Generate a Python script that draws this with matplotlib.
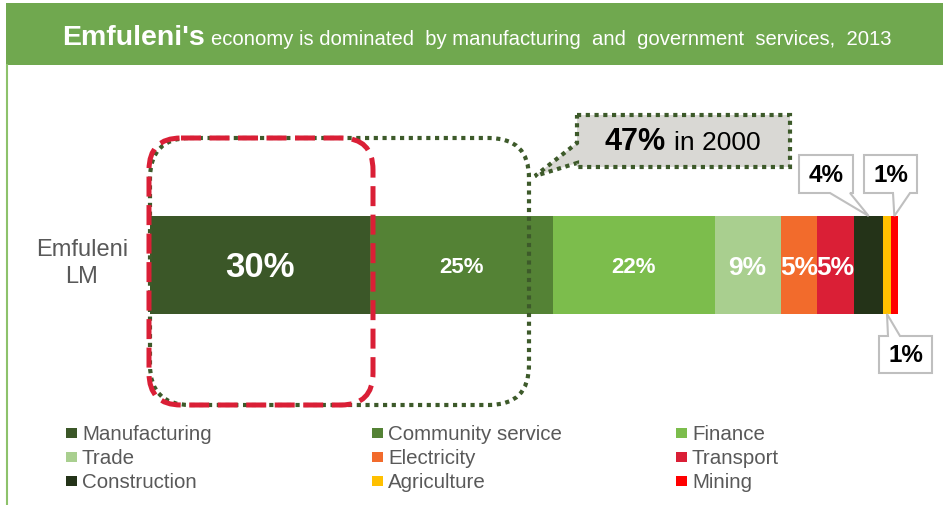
import matplotlib.pyplot as plt
from matplotlib.patches import Rectangle, FancyBboxPatch, Polygon
from matplotlib.transforms import Affine2D

plt.rcParams['font.family'] = ['Liberation Sans', 'DejaVu Sans']

sectors = ["Manufacturing", "Community service", "Finance",
           "Trade", "Electricity", "Transport",
           "Construction", "Agriculture", "Mining"]
shares = [30, 25, 22, 9, 5, 5, 4, 1, 1]
colours = ["#3B5728", "#548235", "#7CBD4C",
           "#A9CF8F", "#F26B2C", "#DA1F36",
           "#243318", "#FFC000", "#FF0000"]
# sizes of the white in-bar labels (small segments get callouts instead)
inside_size = [25, 16, 16, 19, 19, 19, None, None, None]
region = "Emfuleni\nLM"
share_2000 = 47

W, H = 943, 505
fig = plt.figure(figsize=(W / 100, H / 100), dpi=100)
# pixel coords, origin at the top-left corner
px = Affine2D().scale(1 / W, -1 / H).translate(0, 1) + fig.transFigure

# header band + thin frame line
fig.patches.append(Rectangle((6, 3), W - 6, 62, transform=px, fc="#70A84F", ec="none"))
fig.add_artist(plt.Line2D([6.5, 6.5], [65, H], transform=px, color="#8DC26B", lw=1.5))
fig.text(62, 45, "Emfuleni's", transform=px, color="white", fontsize=20.5,
         fontweight="bold", va="baseline")
fig.text(211, 45, "economy is dominated  by manufacturing  and  government  services,  2013",
         transform=px, color="white", fontsize=14.6, va="baseline")

ax = fig.add_axes([150 / W, (H - 410) / H, 748 / W, 290 / H])
total = sum(shares)
left = 0
for name, v, c in zip(sectors, shares, colours):
    ax.barh(0, v, left=left, height=0.676, color=c, edgecolor="none")
    left += v
ax.set_xlim(0, total)
ax.set_ylim(-1, 1)
ax.axis("off")
ax.text(-9.3, 0.01, region, ha="center", va="center", fontsize=17, color="#595959",
        linespacing=1.25)

# in-bar labels
left = 0
for v, s in zip(shares, inside_size):
    if s:
        ax.text(left + v / 2, -0.02, f"{v}%", ha="center", va="center", color="white",
                fontsize=s, fontweight="bold")
    left += v


def to_px(x, y):
    dx, dy = ax.transData.transform((x, y))
    return dx, H - dy


def callout(box, base, tip, side, **kw):
    x0, y0, x1, y1 = box
    b1, b2 = base
    if side == "bottom":
        verts = [(x0, y0), (x1, y0), (x1, y1), (b2, y1), tip, (b1, y1), (x0, y1)]
    elif side == "top":
        verts = [(x0, y0), (b1, y0), tip, (b2, y0), (x1, y0), (x1, y1), (x0, y1)]
    else:  # left edge
        verts = [(x0, y0), (x1, y0), (x1, y1), (x0, y1), (x0, b2), tip, (x0, b1)]
    fig.patches.append(Polygon(verts, closed=True, transform=px, **kw))


edges = [sum(shares[:i]) for i in range(len(shares) + 1)]
bar_top = 0.338
bar_bot = -0.338

# small-segment callouts
grey = dict(fc="white", ec="#BFBFBF", lw=1.5)
cx = (edges[6] + edges[7]) / 2
callout((799, 155, 853, 193), (830, 850), to_px(cx, bar_top), "bottom", **grey)
fig.text(826, 175, f"{shares[6]}%", transform=px, ha="center", va="center",
         fontsize=17.5, fontweight="bold")
cx = (edges[8] + edges[9]) / 2
callout((864, 155, 917, 193), (893, 910), to_px(cx, bar_top), "bottom", **grey)
fig.text(890.5, 175, f"{shares[8]}%", transform=px, ha="center", va="center",
         fontsize=17.5, fontweight="bold")
cx = (edges[7] + edges[8]) / 2
callout((879, 336, 932, 373), (888, 900), to_px(cx, bar_bot), "top", **grey)
fig.text(905.5, 356, f"{shares[7]}%", transform=px, ha="center", va="center",
         fontsize=17.5, fontweight="bold")

# highlight boxes
dgreen = "#3D5A2A"
x_m0, _ = to_px(edges[0], 0)
x_m1, _ = to_px(edges[1], 0)
fig.patches.append(FancyBboxPatch((x_m0, 138), 529 - x_m0, 267, transform=px,
                                  boxstyle="round,pad=0,rounding_size=40",
                                  fc="none", ec=dgreen, lw=3, ls=(0, (1, 1.1))))
callout((577, 115, 790, 167), (143, 163), (535, 176), "left",
        fc="#D9D8D4", ec=dgreen, lw=3, ls=(0, (1, 1.1)))
fig.text(666, 142, f"{share_2000}%", transform=px, ha="right", va="center",
         fontsize=22, fontweight="bold")
fig.text(674, 143, "in 2000", transform=px, ha="left", va="center", fontsize=19)
fig.patches.append(FancyBboxPatch((x_m0 - 1, 138), x_m1 - x_m0 + 4, 267, transform=px,
                                  boxstyle="round,pad=0,rounding_size=32",
                                  fc="none", ec="#DA1F36", lw=3.6, ls=(0, (4, 1.7))))

# legend, laid out row by row
col_x = [66, 372, 676]
row_y = [433, 457, 481]
for i, (name, c) in enumerate(zip(sectors, colours)):
    x, y = col_x[i % 3], row_y[i // 3]
    fig.patches.append(Rectangle((x, y - 5), 11, 10, transform=px, fc=c, ec="none"))
    fig.text(x + 16, y + 1, name, transform=px, va="center", fontsize=14.8,
             color="#595959")

plt.savefig("out.png", dpi=100)
